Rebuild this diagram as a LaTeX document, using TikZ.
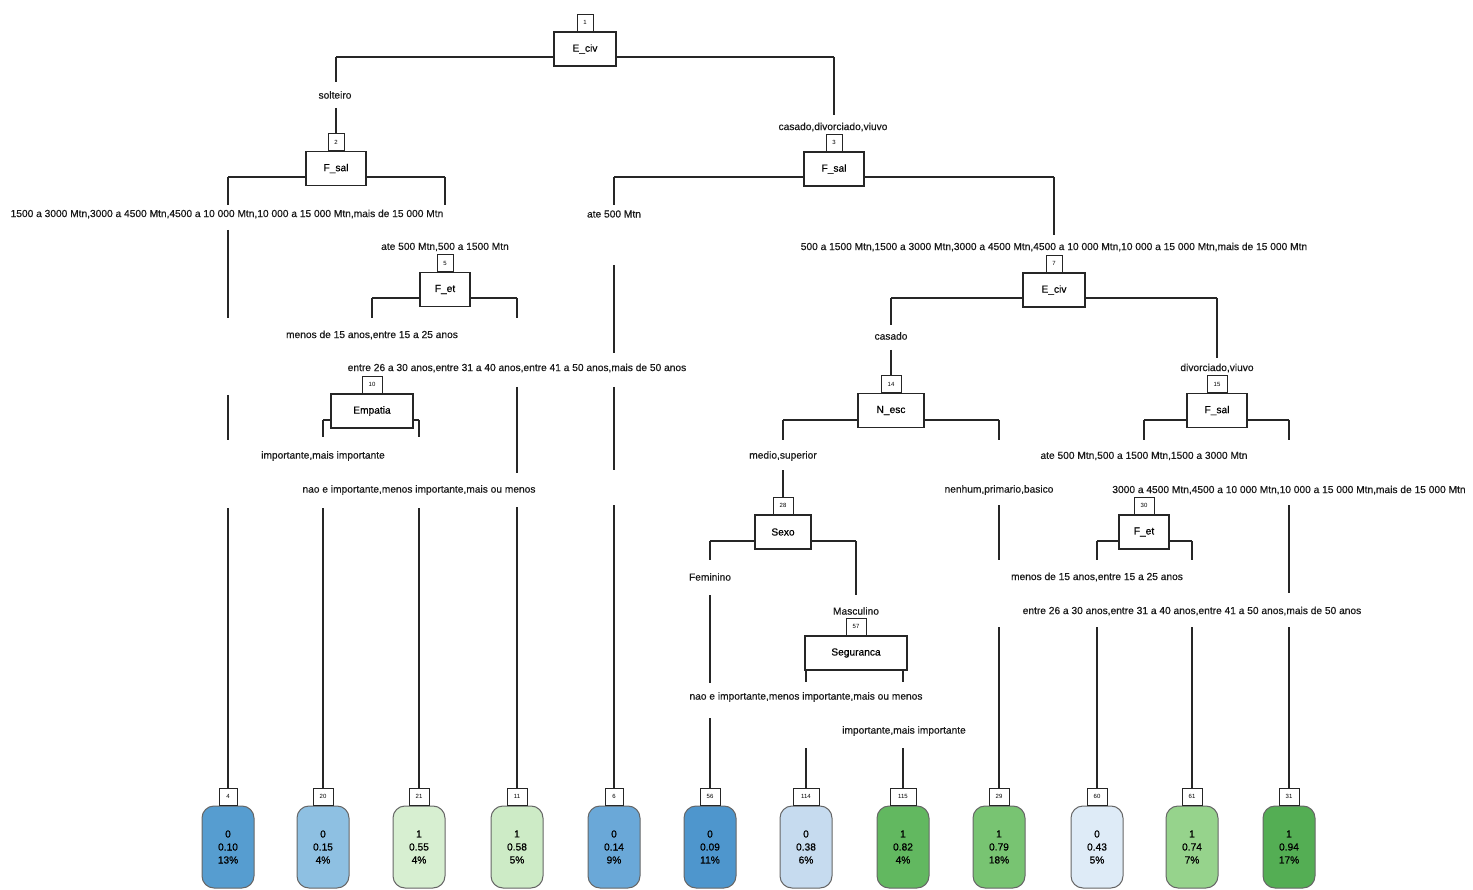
\documentclass[tikz,border=0pt]{standalone}
\usepackage{fontspec}
\setmainfont{Liberation Sans}
\newfontfamily\lblfam{Liberation Sans}[BoldFont=Liberation Sans, BoldFeatures={FakeBold=0.5}]
\usetikzlibrary{backgrounds}
\newcommand\lblfont{\lblfam\bfseries\fontsize{10.2}{13}\selectfont}
\newcommand\numfont{\fontsize{6}{7}\selectfont}
\definecolor{cA}{RGB}{86,157,208}
\definecolor{cB}{RGB}{142,192,226}
\definecolor{cC}{RGB}{215,239,209}
\definecolor{cD}{RGB}{205,235,198}
\definecolor{cE}{RGB}{106,168,216}
\definecolor{cF}{RGB}{78,150,205}
\definecolor{cG}{RGB}{198,219,239}
\definecolor{cH}{RGB}{98,184,96}
\definecolor{cI}{RGB}{120,196,114}
\definecolor{cJ}{RGB}{222,235,247}
\definecolor{cK}{RGB}{150,211,140}
\definecolor{cL}{RGB}{84,174,84}
\tikzset{
 splitbox/.style={draw=black!85, fill=white, line width=1.1pt, font=\lblfont, minimum height=34pt, inner sep=1pt},
 numbox/.style={draw=black!85, fill=white, line width=0.8pt, font=\numfont, minimum height=17pt, minimum width=16pt, inner sep=1pt, anchor=south},
 leafbox/.style={draw=black!60, line width=1pt, rounded corners=12pt, minimum width=52pt, minimum height=82pt, align=center, font=\lblfont, inner sep=1pt},
 lbl/.style={font=\lblfont, inner sep=1pt, text=black!90},
 edge/.style={draw=black!85, line width=1.1pt},
}
\begin{document}
\begin{tikzpicture}[x=1pt,y=-1pt]
\useasboundingbox (0,0) rectangle (1473,890);

% split nodes
\node[splitbox, minimum width=62pt] (n1) at (585,49) {E\_civ};
\node[numbox] (n1num) at (n1.north) {1};
\node[splitbox, minimum width=60pt] (n2) at (336,168.5) {F\_sal};
\node[numbox] (n2num) at (n2.north) {2};
\node[splitbox, minimum width=60pt] (n3) at (834,169) {F\_sal};
\node[numbox] (n3num) at (n3.north) {3};
\node[splitbox, minimum width=50pt] (n5) at (445,289.5) {F\_et};
\node[numbox] (n5num) at (n5.north) {5};
\node[splitbox, minimum width=62pt] (n7) at (1054,290) {E\_civ};
\node[numbox] (n7num) at (n7.north) {7};
\node[splitbox, minimum width=82pt] (n10) at (372,411) {Empatia};
\node[numbox, minimum width=20pt] (n10num) at (n10.north) {10};
\node[splitbox, minimum width=66pt] (n14) at (891,410.5) {N\_esc};
\node[numbox, minimum width=20pt] (n14num) at (n14.north) {14};
\node[splitbox, minimum width=60pt] (n15) at (1217,410.5) {F\_sal};
\node[numbox, minimum width=20pt] (n15num) at (n15.north) {15};
\node[splitbox, minimum width=56pt] (n28) at (783,532) {Sexo};
\node[numbox, minimum width=20pt] (n28num) at (n28.north) {28};
\node[splitbox, minimum width=50pt] (n30) at (1144,532) {F\_et};
\node[numbox, minimum width=20pt] (n30num) at (n30.north) {30};
\node[splitbox, minimum width=102pt] (n57) at (856,653) {Seguranca};
\node[numbox, minimum width=20pt] (n57num) at (n57.north) {57};

% leaves
\node[leafbox, fill=cA] (l4) at (228,847) {0\\0.10\\13\%};
\node[numbox, minimum width=18pt] (l4num) at (l4.north) {4};
\node[leafbox, fill=cB] (l20) at (323,847) {0\\0.15\\4\%};
\node[numbox, minimum width=20pt] (l20num) at (l20.north) {20};
\node[leafbox, fill=cC] (l21) at (419,847) {1\\0.55\\4\%};
\node[numbox, minimum width=20pt] (l21num) at (l21.north) {21};
\node[leafbox, fill=cD] (l11) at (517,847) {1\\0.58\\5\%};
\node[numbox, minimum width=20pt] (l11num) at (l11.north) {11};
\node[leafbox, fill=cE] (l6) at (614,847) {0\\0.14\\9\%};
\node[numbox, minimum width=18pt] (l6num) at (l6.north) {6};
\node[leafbox, fill=cF] (l56) at (710,847) {0\\0.09\\11\%};
\node[numbox, minimum width=20pt] (l56num) at (l56.north) {56};
\node[leafbox, fill=cG] (l114) at (806,847) {0\\0.38\\6\%};
\node[numbox, minimum width=26pt] (l114num) at (l114.north) {114};
\node[leafbox, fill=cH] (l115) at (903,847) {1\\0.82\\4\%};
\node[numbox, minimum width=26pt] (l115num) at (l115.north) {115};
\node[leafbox, fill=cI] (l29) at (999,847) {1\\0.79\\18\%};
\node[numbox, minimum width=20pt] (l29num) at (l29.north) {29};
\node[leafbox, fill=cJ] (l60) at (1097,847) {0\\0.43\\5\%};
\node[numbox, minimum width=20pt] (l60num) at (l60.north) {60};
\node[leafbox, fill=cK] (l61) at (1192,847) {1\\0.74\\7\%};
\node[numbox, minimum width=20pt] (l61num) at (l61.north) {61};
\node[leafbox, fill=cL] (l31) at (1289,847) {1\\0.94\\17\%};
\node[numbox, minimum width=20pt] (l31num) at (l31.north) {31};

% branch labels
\node[lbl] (b2) at (335,95) {solteiro};
\node[lbl] (b3) at (833,127) {casado,divorciado,viuvo};
\node[lbl] (b4) at (227,214) {1500 a 3000 Mtn,3000 a 4500 Mtn,4500 a 10 000 Mtn,10 000 a 15 000 Mtn,mais de 15 000 Mtn};
\node[lbl] (b6) at (614,214) {ate 500 Mtn};
\node[lbl] (b5) at (445,247) {ate 500 Mtn,500 a 1500 Mtn};
\node[lbl] (b7) at (1054,247) {500 a 1500 Mtn,1500 a 3000 Mtn,3000 a 4500 Mtn,4500 a 10 000 Mtn,10 000 a 15 000 Mtn,mais de 15 000 Mtn};
\node[lbl] (b10) at (372,335) {menos de 15 anos,entre 15 a 25 anos};
\node[lbl] (b14) at (891,336) {casado};
\node[lbl] (b11) at (517,368) {entre 26 a 30 anos,entre 31 a 40 anos,entre 41 a 50 anos,mais de 50 anos};
\node[lbl] (b15) at (1217,368) {divorciado,viuvo};
\node[lbl] (b20) at (323,456) {importante,mais importante};
\node[lbl] (b28) at (783,456) {medio,superior};
\node[lbl] (b30) at (1144,456) {ate 500 Mtn,500 a 1500 Mtn,1500 a 3000 Mtn};
\node[lbl] (b21) at (419,490) {nao e importante,menos importante,mais ou menos};
\node[lbl] (b29) at (999,490) {nenhum,primario,basico};
\node[lbl] (b31) at (1289,490) {3000 a 4500 Mtn,4500 a 10 000 Mtn,10 000 a 15 000 Mtn,mais de 15 000 Mtn};
\node[lbl] (b56) at (710,577) {Feminino};
\node[lbl] (b60) at (1097,577) {menos de 15 anos,entre 15 a 25 anos};
\node[lbl] (b57) at (856,611) {Masculino};
\node[lbl] (b61) at (1192,611) {entre 26 a 30 anos,entre 31 a 40 anos,entre 41 a 50 anos,mais de 50 anos};
\node[lbl] (b114) at (806,697) {nao e importante,menos importante,mais ou menos};
\node[lbl] (b115) at (904,731) {importante,mais importante};

\begin{scope}[on background layer]
% root
\draw[edge] (n2num |- 0,57) -- (n3num |- 0,57);
\draw[edge] (n2num |- 0,57) -- (n2num |- 0,82);
\draw[edge] (n2num |- 0,108) -- (n2num.north);
\draw[edge] (n3num |- 0,57) -- (n3num |- 0,115);
% node 2
\draw[edge] (l4num |- 0,177) -- (n5num |- 0,177);
\draw[edge] (l4num |- 0,177) -- (l4num |- 0,205);
\draw[edge] (l4num |- 0,230) -- (l4num |- 0,318);
\draw[edge] (l4num |- 0,395) -- (l4num |- 0,440);
\draw[edge] (l4num |- 0,508) -- (l4num.north);
\draw[edge] (n5num |- 0,177) -- (n5num |- 0,205);
% node 3
\draw[edge] (l6num |- 0,177) -- (n7num |- 0,177);
\draw[edge] (l6num |- 0,177) -- (l6num |- 0,205);
\draw[edge] (l6num |- 0,265) -- (l6num |- 0,353);
\draw[edge] (l6num |- 0,387) -- (l6num |- 0,470);
\draw[edge] (l6num |- 0,505) -- (l6num.north);
\draw[edge] (n7num |- 0,177) -- (n7num |- 0,235);
% node 5
\draw[edge] (n10num |- 0,298) -- (l11num |- 0,298);
\draw[edge] (n10num |- 0,298) -- (n10num |- 0,318);
\draw[edge] (l11num |- 0,298) -- (l11num |- 0,318);
\draw[edge] (l11num |- 0,387) -- (l11num |- 0,473);
\draw[edge] (l11num |- 0,507) -- (l11num.north);
% node 7
\draw[edge] (n14num |- 0,298) -- (n15num |- 0,298);
\draw[edge] (n14num |- 0,298) -- (n14num |- 0,325);
\draw[edge] (n14num |- 0,350) -- (n14num.north);
\draw[edge] (n15num |- 0,298) -- (n15num |- 0,358);
% node 10
\draw[edge] (l20num |- 0,420) -- (l21num |- 0,420);
\draw[edge] (l20num |- 0,420) -- (l20num |- 0,437);
\draw[edge] (l20num |- 0,508) -- (l20num.north);
\draw[edge] (l21num |- 0,420) -- (l21num |- 0,437);
\draw[edge] (l21num |- 0,508) -- (l21num.north);
% node 14
\draw[edge] (n28num |- 0,420) -- (l29num |- 0,420);
\draw[edge] (n28num |- 0,420) -- (n28num |- 0,440);
\draw[edge] (n28num |- 0,470) -- (n28num.north);
\draw[edge] (l29num |- 0,420) -- (l29num |- 0,440);
\draw[edge] (l29num |- 0,505) -- (l29num |- 0,560);
\draw[edge] (l29num |- 0,627) -- (l29num.north);
% node 15
\draw[edge] (n30num |- 0,420) -- (l31num |- 0,420);
\draw[edge] (n30num |- 0,420) -- (n30num |- 0,440);
\draw[edge] (l31num |- 0,420) -- (l31num |- 0,440);
\draw[edge] (l31num |- 0,505) -- (l31num |- 0,593);
\draw[edge] (l31num |- 0,627) -- (l31num.north);
% node 28
\draw[edge] (l56num |- 0,541) -- (n57num |- 0,541);
\draw[edge] (l56num |- 0,541) -- (l56num |- 0,560);
\draw[edge] (l56num |- 0,595) -- (l56num |- 0,683);
\draw[edge] (l56num |- 0,718) -- (l56num.north);
\draw[edge] (n57num |- 0,541) -- (n57num |- 0,595);
% node 30
\draw[edge] (l60num |- 0,541) -- (l61num |- 0,541);
\draw[edge] (l60num |- 0,541) -- (l60num |- 0,560);
\draw[edge] (l60num |- 0,627) -- (l60num.north);
\draw[edge] (l61num |- 0,541) -- (l61num |- 0,560);
\draw[edge] (l61num |- 0,627) -- (l61num.north);
% node 57
\draw[edge] (l114num |- 0,662) -- (l115num |- 0,662);
\draw[edge] (l114num |- 0,662) -- (l114num |- 0,682);
\draw[edge] (l114num |- 0,748) -- (l114num.north);
\draw[edge] (l115num |- 0,662) -- (l115num |- 0,682);
\draw[edge] (l115num |- 0,748) -- (l115num.north);
\end{scope}
\end{tikzpicture}
\end{document}
